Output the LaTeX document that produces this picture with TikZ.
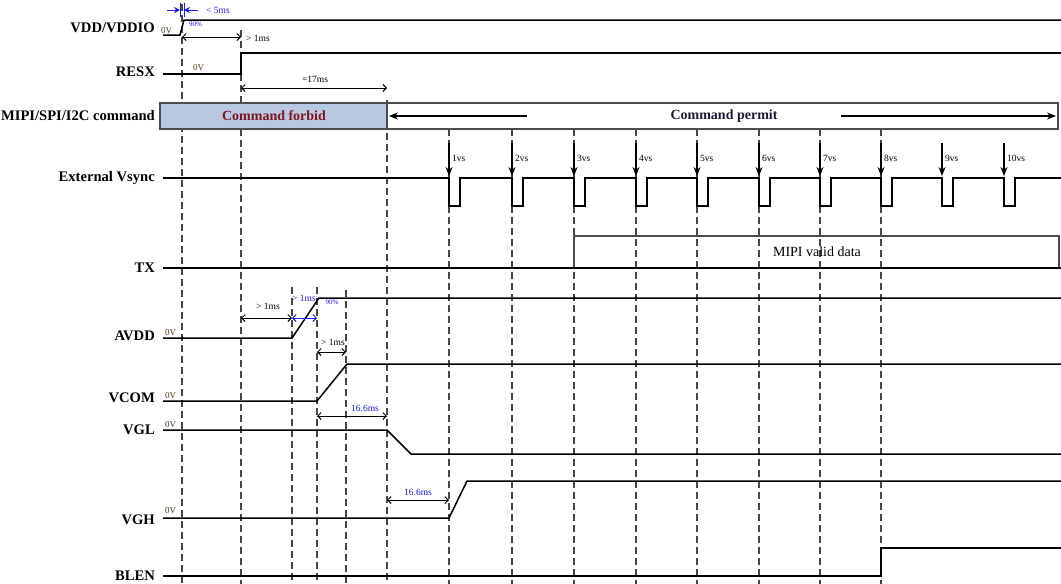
\documentclass[tikz,border=0pt]{standalone}
\usepackage{fontspec}
\setmainfont{Liberation Serif}
\usetikzlibrary{arrows.meta}

\definecolor{forbidfill}{RGB}{184,200,226}
\definecolor{forbidred}{RGB}{128,22,30}
\definecolor{permitink}{RGB}{28,28,58}
\definecolor{dimblue}{RGB}{25,25,245}
\definecolor{zeroink}{RGB}{85,55,25}
\definecolor{guidegray}{RGB}{70,70,70}

\tikzset{
  sig/.style={line width=1.5pt},
  guide/.style={guidegray, line width=1.4pt, dash pattern=on 7pt off 4pt},
  siglabel/.style={anchor=east, inner sep=0pt, font=\bfseries\fontsize{14.6}{16}\selectfont},
  zerov/.style={anchor=south west, inner sep=0pt, text=zeroink, font=\fontsize{9}{10}\selectfont},
  dimtext/.style={inner sep=0pt, font=\fontsize{9.5}{10}\selectfont},
  dim/.style={<->, line width=1pt},
  vsarrow/.style={-{Stealth[length=9pt, width=7pt]}, line width=1.1pt},
  vslabel/.style={anchor=west, inner sep=0pt, font=\fontsize{9.5}{10}\selectfont},
  box/.style={draw=black!70, line width=1.2pt},
  bigtext/.style={font=\bfseries\fontsize{14}{16}\selectfont},
}

\begin{document}
\begin{tikzpicture}[x=1pt, y=-1pt, >={Straight Barb[length=3.5pt, width=7pt]}]
\useasboundingbox (0,0) rectangle (1061,584);
%% 1 unit = 1 px of the sheet, y grows downwards
%% rows: VDD 20/35 | RESX 53/74 | cmd 103-129 | Vsync 178 | TX 268
%%       AVDD 338 | VCOM 401 | VGL 430 | VGH 518 | BLEN 576

%% ---- time marks ----
\foreach \n/\x in {tv/182, tr/241, ta/292, tc/317, te/346, tg/387,
                   t1/449, t2/512, t3/574, t4/636, t5/697, t6/759, t7/820, t8/881}
  \coordinate (\n) at (\x,0);

%% ---- dashed guides ----
\foreach \n/\yt in {tv/4, tr/30, ta/287, tc/287, te/290, tg/100,
                    t1/129, t2/129, t3/129, t4/129, t5/129, t6/129, t7/129, t8/129}
  \draw[guide] (\n |- 0,\yt) -- (\n |- 0,584);

%% ---- signal names ----
\node[siglabel] (lvdd)  at (155,28)  {VDD/VDDIO};
\node[siglabel] (lrst)  at (155,72)  {RESX};
\node[siglabel] (lcmd)  at (155,116) {MIPI/SPI/I2C command};
\node[siglabel] (lvs)   at (155,178) {External Vsync};
\node[siglabel] (ltx)   at (155,268) {TX};
\node[siglabel] (lavdd) at (155,336) {AVDD};
\node[siglabel] (lvcom) at (155,398) {VCOM};
\node[siglabel] (lvgl)  at (155,430) {VGL};
\node[siglabel] (lvgh)  at (155,520) {VGH};
\node[siglabel] (lblen) at (155,576) {BLEN};

%% ---- VDD/VDDIO + RESX ----
\draw[sig] (163,35) -- (180,35) -- (184,20) -- (1061,20);
\draw[sig] (163,74) -- (241,74) -- (241,53) -- (1061,53);
\node[zerov] (z0) at (161,34) {0V};
\node[zerov] (z1) at (193,71) {0V};

%% rise window (blue)
\coordinate (r0) at (180,10); \coordinate (r1) at (184,10);
\draw[dimblue, line width=1pt] (180,3) -- (180,17) (184,3) -- (184,17);
\draw[dimblue, line width=1pt, -{Stealth[length=6pt, width=6pt]}] ([xshift=-13pt]r0) -- (r0);
\draw[dimblue, line width=1pt, -{Stealth[length=6pt, width=6pt]}] ([xshift=14pt]r1) -- (r1);
\node[dimtext, anchor=west, text=dimblue] (rt) at (206,10) {< 5ms};
\node[dimtext, anchor=west, text=dimblue, font=\fontsize{7}{8}\selectfont] (rp) at (189,24) {90\%};

\draw[dim] (tv |- 0,37) -- (tr |- 0,37);
\node[dimtext, anchor=west] (d1) at (246,38) {> 1ms};
\draw[dim] (tr |- 0,88) -- (tg |- 0,88);
\node[dimtext] (d2) at (315,79) {=17ms};

%% ---- MIPI/SPI/I2C command ----
\draw[box, fill=forbidfill] (160,103) rectangle (387,129);
\draw[box] (387,103) rectangle (1058,129);
\node[bigtext, text=forbidred] (forbid) at (274,116) {Command forbid};
\node[bigtext, text=permitink] (permit) at (724,116) {Command permit};
\coordinate (pl) at (389,116); \coordinate (pr) at (1056,116);
\draw[-{Stealth[length=9pt, width=7pt]}, line width=1.1pt] ([xshift=-140pt]permit.west) -- (pl);
\draw[-{Stealth[length=9pt, width=7pt]}, line width=1.1pt] ([xshift=60pt]permit.east) -- (pr);

%% ---- External Vsync ----
\draw[sig] (163,178) foreach \x in {449,512,574,636,697,759,820,881,942,1004}
  { -- (\x,178) -- (\x,206) -- (\x+11,206) -- (\x+11,178) } -- (1061,178);
\foreach \x [count=\i] in {449,512,574,636,697,759,820,881,942,1004} {
  \coordinate (vt\i) at (\x,143);
  \coordinate (vb\i) at (\x,176);
  \draw[vsarrow] (vt\i) -- (vb\i);
  \node[vslabel] (vs\i) at (\x+3,158) {\i vs};
}

%% ---- TX ----
\draw[box] (574,236) rectangle (1059,268);
\draw[sig] (163,268) -- (1061,268);
\node[font=\fontsize{14}{16}\selectfont] (txdata) at (817,252) {MIPI valid data};

%% ---- AVDD ----
\draw[sig] (163,338) -- (292,338) -- (319,298) -- (1061,298);
\node[zerov] (z2) at (165,336) {0V};
\draw[dim] (tr |- 0,318) -- (ta |- 0,318);
\node[dimtext] (d3) at (268,306) {> 1ms};
\draw[dim, dimblue] (ta |- 0,318) -- (tc |- 0,318);
\node[dimtext, text=dimblue] (d4) at (304,298) {> 1ms};
\node[dimtext, text=dimblue, font=\fontsize{7}{8}\selectfont] (d5) at (332,302) {90\%};

%% ---- VCOM ----
\draw[sig] (163,401) -- (317,401) -- (347,364) -- (1061,364);
\node[zerov] (z3) at (165,399) {0V};
\draw[dim] (tc |- 0,352) -- (te |- 0,352);
\node[dimtext] (d6) at (333,342) {> 1ms};

%% ---- VGL ----
\draw[sig] (163,430) -- (387,430) -- (411,454) -- (1061,454);
\node[zerov] (z4) at (165,428) {0V};
\draw[dim] (tc |- 0,416) -- (tg |- 0,416);
\node[dimtext, text=dimblue] (d7) at (365,408) {16.6ms};

%% ---- VGH ----
\draw[sig] (163,518) -- (449,518) -- (467,481) -- (1061,481);
\node[zerov] (z5) at (165,514) {0V};
\draw[dim] (tg |- 0,500) -- (t1 |- 0,500);
\node[dimtext, text=dimblue] (d8) at (418,492) {16.6ms};

%% ---- BLEN ----
\draw[sig] (163,576) -- (881,576) -- (881,548) -- (1061,548);
\end{tikzpicture}
\end{document}
